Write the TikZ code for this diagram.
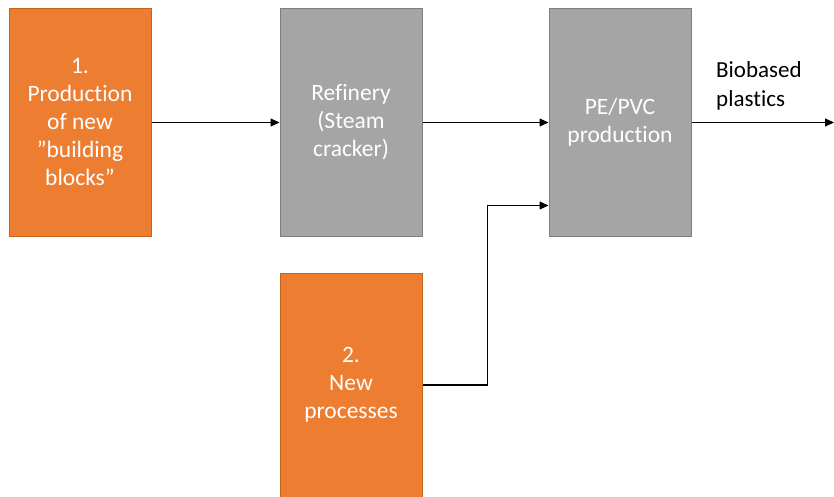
\documentclass[tikz,border=0pt]{standalone}
\usepackage{fontspec}
\setmainfont{Carlito}[Ligatures=CommonOff]
\usetikzlibrary{arrows.meta}

\definecolor{stepOrange}{HTML}{ED7D31}
\definecolor{stepOrangeLine}{HTML}{C0651F}
\definecolor{stepGray}{HTML}{A5A5A5}
\definecolor{stepGrayLine}{HTML}{7F7F7F}

\tikzset{
  procbox/.style={draw, line width=1pt, minimum width=142pt, minimum height=227pt,
    inner sep=0pt, align=center, text=white, font=\fontsize{23.5}{28}\selectfont},
  newbox/.style={procbox, fill=stepOrange, draw=stepOrangeLine},
  plantbox/.style={procbox, fill=stepGray, draw=stepGrayLine},
  flow/.style={line width=1.1pt, -{Triangle[length=9pt,width=8pt]}}
}

\begin{document}
\begin{tikzpicture}[x=1pt,y=-1pt]
    \useasboundingbox (0,0) rectangle (834,497);
    \node[newbox] (blocks) at (80,122.5) {1.\\Production\\of new\\”building\\blocks”};
    \node[plantbox] (refinery) at (351,122.5) {Refinery\\(Steam\\cracker)};
    \node[plantbox] (pepvc) at (620,122.5) {PE/PVC\\production};
    \node[newbox, minimum height=224pt] (processes) at (351,385) {2.\\New\\processes};
    \coordinate (out) at (834,122.5);
    \node[anchor=west, align=left, inner sep=0pt, font=\fontsize{23}{29}\selectfont] (product) at (716,86) {Biobased\\plastics};
    % flows
    \draw[flow] (blocks) -- (refinery);
    \draw[flow] (refinery) -- (pepvc);
    \draw[flow] (processes.east) -- ++(65,0) |- ([yshift=31pt]pepvc.south west);
    \draw[flow] (pepvc) -- (out);
\end{tikzpicture}
\end{document}
